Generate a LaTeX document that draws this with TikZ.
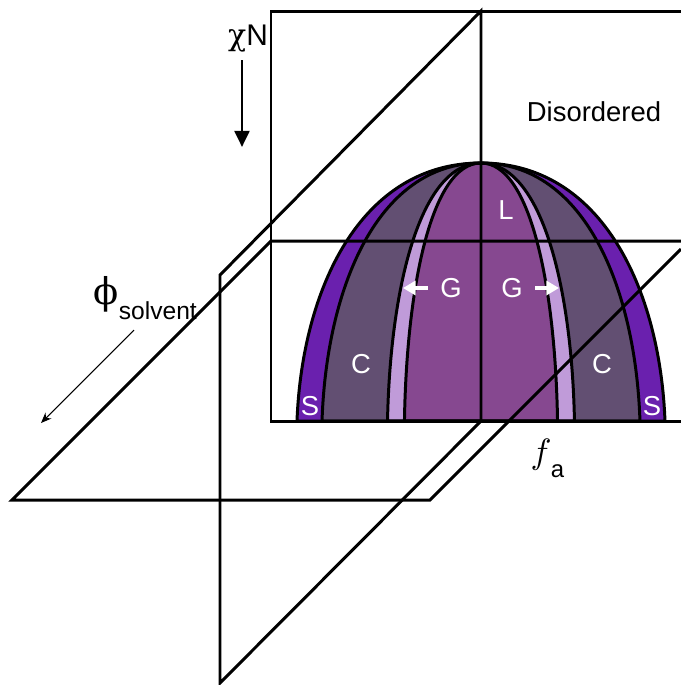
\documentclass[tikz,border=0pt]{standalone}
\usepackage{fontspec}
\setmainfont{Liberation Sans}
\newfontfamily\greekfont{DejaVu Serif}
\usepackage{tikz}
\usetikzlibrary{arrows.meta}

\definecolor{sphcol}{HTML}{6A20AE}
\definecolor{cylcol}{HTML}{624F72}
\definecolor{gyrcol}{HTML}{C09BD9}
\definecolor{lamcol}{HTML}{864890}

% one dome boundary, centred on x=0, scaled by xscale
\newcommand{\domeshape}{(-184,421) .. controls (-179,290) and (-121,163) .. (0,163) .. controls (121,163) and (179,290) .. (184,421) -- cycle}

\tikzset{
	plane/.style={line width=0.85pt, line join=miter},
	band/.style={line width=0.85pt},
	phase/.style={text=white, font=\fontsize{7.8}{8}\selectfont},
	lbl/.style={font=\fontsize{7.8}{8}\selectfont},
	gyrarrow/.style={white, line width=0.9pt, -{Triangle[length=3.6pt, width=4pt]}},
}

\begin{document}
\begin{tikzpicture}[x=0.1mm, y=-0.1mm, >=Stealth]
		\useasboundingbox (0,0) rectangle (681,685);
		% phase dome, outer band first
		\fill[sphcol] [shift={(481,0)}] \domeshape;
		\fill[cylcol] [shift={(481,0)}, xscale=0.864] \domeshape;
		\fill[gyrcol] [shift={(481,0)}, xscale=0.508] \domeshape;
		\fill[lamcol] [shift={(481,0)}, xscale=0.416] \domeshape;
		\foreach \s in {1,0.864,0.508,0.416}
			\draw[band] [shift={(481,0)}, xscale=\s] \domeshape;
		% corners of the three planes
		\coordinate (B1) at (271,11);
		\coordinate (B2) at (271,421);
		\coordinate (H1) at (12,500);
		\coordinate (H2) at (271,241);
		\coordinate (H3) at (430,500);
		\coordinate (F1) at (220,275);
		\coordinate (F2) at (481,11);
		\coordinate (F3) at (481,421);
		\coordinate (F4) at (220,683);
		% back plane
		\draw[plane] (681,11) -- (B1) -- (B2) -- (681,421);
		% horizontal plane
		\draw[plane] (681,241) -- (H2) -- (H1) -- (H3) -- (681,249);
		% front plane
		\draw[plane] (F3) -- (F2) -- (F1) -- (F4) -- cycle;
		% axis labels
		\node[lbl, font=\fontsize{8.5}{9}\selectfont] (chiN) at (248,39) {{\greekfont χ}N};
		\coordinate (chiA) at (242,60);
		\coordinate (chiB) at (242,147);
		\draw[line width=0.85pt, -{Triangle[length=4.6pt, width=4.2pt]}] (chiA) -- (chiB);
		\node[lbl] (dis) at (594,112) {Disordered};
		\node[anchor=west, inner sep=0pt] (phi) at (93,298) {{\greekfont\fontsize{10.5}{11}\selectfont ϕ}\raisebox{-0.8ex}{\fontsize{7}{7}\selectfont solvent}};
		\coordinate (phiA) at (134,330);
		\coordinate (phiB) at (41,423);
		\draw[line width=0.3pt, -{Stealth[length=3pt, width=2.4pt]}] (phiA) -- (phiB);
		\node[anchor=west, inner sep=0pt] (fa) at (530,458) {$f$\hspace{-0.2pt}\raisebox{-0.75ex}{\fontsize{6.8}{7}\selectfont a}};
		% phase labels
		\node[phase] (lam) at (506,210) {L};
		\node[phase] (gyrL) at (451,288) {G};
		\node[phase] (gyrR) at (512,288) {G};
		\coordinate (gyrLt) at (403,288);
		\coordinate (gyrRt) at (559,288);
		\draw[gyrarrow] (gyrL.west) -- (gyrLt);
		\draw[gyrarrow] (gyrR.east) -- (gyrRt);
		\node[phase] (cylL) at (361,364) {C};
		\node[phase] (cylR) at (602,364) {C};
		\node[phase] (sphL) at (310,406) {S};
		\node[phase] (sphR) at (652,406) {S};
	\end{tikzpicture}
\end{document}
